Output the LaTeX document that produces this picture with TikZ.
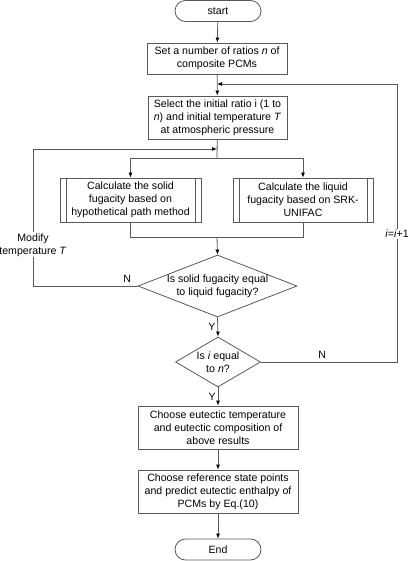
\documentclass[tikz,border=0pt]{standalone}
\usepackage{fontspec}
\setmainfont{Liberation Sans}
\usetikzlibrary{shapes.geometric,arrows.meta}
\begin{document}
\begin{tikzpicture}[x=1pt,y=-1pt,
    every node/.style={font=\fontsize{10.6}{13}\selectfont,align=center},
    line/.style={draw=black!65,line width=0.8pt},
    arr/.style={line,-{Latex[length=5pt,width=4pt,black]}},
    proc/.style={line,rectangle,inner sep=0pt},
    term/.style={line,rectangle,rounded corners=10.5pt,minimum width=86pt,minimum height=21pt},
    decision/.style={line,diamond,inner sep=0pt},
    tag/.style={fill=white,inner sep=1pt}]
    \useasboundingbox (0,0) rectangle (409,561);
    % boxes
    \node[term] (start) at (218,11) {start};
    \node[proc,minimum width=140pt,minimum height=31pt] (ratios) at (217,58.5) {Set a number of ratios \textit{n} of\\composite PCMs};
    \node[proc,minimum width=139pt,minimum height=43pt] (init) at (217.5,117.5) {Select the initial ratio i (1 to\\\textit{n}) and initial temperature \textit{T}\\at atmospheric pressure};
    \node[proc,minimum width=141pt,minimum height=44pt] (solid) at (130.5,200) {Calculate the solid\\fugacity based on\\hypothetical path method};
    \node[proc,minimum width=140pt,minimum height=44pt] (liquid) at (303,200) {Calculate the liquid\\fugacity based on SRK-\\UNIFAC};
    \draw[line] ([xshift=6.5pt]solid.north west) -- ([xshift=6.5pt]solid.south west);
    \draw[line] ([xshift=-6.5pt]solid.north east) -- ([xshift=-6.5pt]solid.south east);
    \draw[line] ([xshift=6.5pt]liquid.north west) -- ([xshift=6.5pt]liquid.south west);
    \draw[line] ([xshift=-6.5pt]liquid.north east) -- ([xshift=-6.5pt]liquid.south east);
    \node[decision,minimum width=159pt,minimum height=62pt] (fug) at (217.5,286) {};
    \node at (fug) {Is solid fugacity equal\\to liquid fugacity?};
    \node[decision,minimum width=85pt,minimum height=50pt] (ieq) at (218,362) {};
    \node at (ieq) {Is \textit{i} equal\\to \textit{n}?};
    \node[proc,minimum width=160pt,minimum height=43pt] (eut) at (218,427.5) {Choose eutectic temperature\\and eutectic composition of\\above results};
    \node[proc,minimum width=160pt,minimum height=43pt] (enth) at (218,491.5) {Choose reference state points\\and predict eutectic enthalpy of\\PCMs by Eq.(10)};
    \node[term] (end) at (218,549.5) {End};
    % joints
    \coordinate (rj) at (217,84);
    \coordinate (lj) at (217,149);
    \coordinate (sp) at (217,158);
    \coordinate (mg) at (217,237);
    % connectors
    \draw[arr] (start) -- (ratios);
    \draw[arr] (ratios) -- (init);
    \draw[line] (init) -- (sp);
    \draw[arr] (sp) -| (solid.north);
    \draw[arr] (sp) -| (liquid.north);
    \draw[line] (solid.south) |- (mg);
    \draw[line] (liquid.south) |- (mg);
    \draw[arr] (mg) -- (fug.north);
    \draw[arr] (fug.south) -- node[left,inner sep=2pt] {Y} (ieq.north);
    \draw[arr] (ieq.south) -- node[left,inner sep=2pt] {Y} (eut.north);
    \draw[arr] (eut) -- (enth);
    \draw[arr] (enth) -- (end);
    \draw[arr] (fug.west) -- node[above,pos=0.1] {N} (33,286) |- node[pos=0.15,tag] {Modify\\temperature \textit{T}} (lj);
    \draw[arr] (ieq.east) -- node[above,pos=0.45] {N} (397,362) |- node[pos=0.23,tag] {\textit{i}=\textit{i}+1} (rj);
\end{tikzpicture}
\end{document}
